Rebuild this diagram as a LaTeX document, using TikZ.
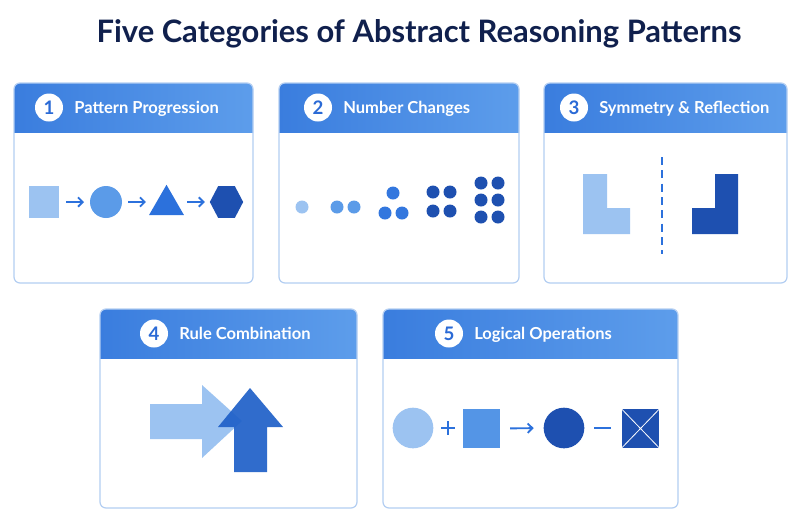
\documentclass[tikz,border=0pt]{standalone}
\usepackage{fontspec}
\setmainfont{Lato}
\usetikzlibrary{arrows.meta,shapes.geometric}
\definecolor{hdA}{HTML}{3A7DDE}
\definecolor{hdB}{HTML}{5D9DEB}
\definecolor{bord}{HTML}{B3CEF2}
\definecolor{ttl}{HTML}{10204D}
\definecolor{cA}{HTML}{9CC3F1}
\definecolor{cB}{HTML}{5B9BE8}
\definecolor{cC}{HTML}{2C71DC}
\definecolor{cD}{HTML}{1E50B0}
\definecolor{cE}{HTML}{1F60C8}
\definecolor{numc}{HTML}{2A6AD6}
\tikzset{
 numcirc/.style={circle, fill=white, minimum size=21pt, inner sep=0pt, text=numc, font=\bfseries\fontsize{14}{14}\selectfont},
 hdtext/.style={anchor=base west, text=white, font=\bfseries\fontsize{12.4}{13}\selectfont, inner sep=0pt},
 arr/.style={-{Straight Barb[length=3.5pt,width=7pt]}, line width=1.4pt, draw=cC},
 shp/.style={inner sep=0pt, outer sep=0pt},
 oper/.style={line width=1.7pt, draw=cC},
}
\newcommand\mypanel[8]{%
 \fill[white, rounded corners=4.5pt] (#1,#3) rectangle (#2,#5);
 \begin{scope}
 \clip[rounded corners=4.5pt] (#1,#3) rectangle (#2,#5);
 \shade[left color=hdA, right color=hdB] (#1,#3) rectangle (#2,#4);
 \end{scope}
 \draw[bord, line width=0.9pt, rounded corners=4.5pt] (#1,#3) rectangle (#2,#5);
 \node[numcirc] (num#7) at (#6,{(#3+#4)/2}) {#7};
 \node[hdtext] (head#7) at ({#6+25},{(#3+#4)/2+6}) {#8};
}
\begin{document}
\begin{tikzpicture}[x=0.75pt,y=-0.75pt]
\fill[white] (0,0) rectangle (800,526);
\useasboundingbox (0,0) rectangle (800,526);
\node[font=\bfseries\fontsize{23.2}{26}\selectfont, text=ttl] (title) at (419,34) {Five Categories of Abstract Reasoning Patterns};

\mypanel{14}{253}{83}{132}{283}{49}{1}{Pattern Progression}
\mypanel{279}{519}{83}{132}{283}{318}{2}{Number Changes}
\mypanel{544}{787}{83}{132}{283}{574}{3}{Symmetry \& Reflection}
\mypanel{100}{357}{309}{358}{508}{154}{4}{Rule Combination}
\mypanel{383}{678}{309}{358}{508}{449}{5}{Logical Operations}

% panel 1
\node[shp, fill=cA, minimum width=22.5pt, minimum height=24pt] (sq1) at (44,202) {};
\node[shp, circle, fill=cB, minimum size=24pt] (ci1) at (106,202) {};
\node[shp, regular polygon, regular polygon sides=3, fill=cC, minimum size=30.3pt] (tr1) at (166.5,205) {};
\node[shp, regular polygon, regular polygon sides=6, fill=cD, minimum size=25pt, yscale=1.1] (hx1) at (226.5,202) {};
\draw[arr] ([xshift=5.25pt]sq1.east) -- ([xshift=-4.5pt]ci1.west);
\draw[arr] ([xshift=4.5pt]ci1.east) -- ([xshift=-15.4pt,yshift=2.25pt]tr1.center);
\draw[arr] ([xshift=15.4pt,yshift=2.25pt]tr1.center) -- ([xshift=-3.75pt]hx1.west);

% panel 2
\fill[cA] (302,207) circle (6.5);
\fill[cB] (337,207) circle (6.5) (354,207) circle (6.5);
\fill[cC!85!cB] (393,193) circle (6.5) (385,213) circle (6.5) (402,213) circle (6.5);
\foreach \x in {433,450} \foreach \y in {192,211} \fill[cD] (\x,\y) circle (6.5);
\foreach \x in {481,498} \foreach \y in {183,200,217} \fill[cD] (\x,\y) circle (6.5);

% panel 3
\fill[cA] (583,174) -- (607,174) -- (607,208) -- (630,208) -- (630,234) -- (583,234) -- cycle;
\draw[cC, line width=1.5pt, dash pattern=on 6pt off 4pt] (662,157) -- (662,254);
\fill[cD] (738,174) -- (715,174) -- (715,208) -- (692,208) -- (692,234) -- (738,234) -- cycle;

% panel 4
\fill[cA] (150,404) -- (202,404) -- (202,385) -- (242,421) -- (202,458) -- (202,439) -- (150,439) -- cycle;
\fill[cE, fill opacity=0.92] (234,472) -- (234,427) -- (218,427) -- (250,388) -- (283,427) -- (267,427) -- (267,472) -- cycle;

% panel 5
\node[shp, circle, fill=cA, minimum size=30.5pt] (ci5) at (413,428) {};
\draw[oper] (441,428) -- (455,428) (448,421) -- (448,435);
\node[shp, fill=cB!85!cC, minimum width=28pt, minimum height=29pt] (sq5) at (481.5,428.5) {};
\node[shp, circle, fill=cD, minimum size=30.5pt] (dc5) at (564,428) {};
\draw[arr, shorten <=7.5pt, shorten >=7.5pt] (sq5.east) -- (dc5.west);
\draw[oper] (594,428) -- (611,428);
\node[shp, fill=cD, minimum width=28pt, minimum height=29pt] (xs5) at (640.5,428.5) {};
\draw[white, line width=0.6pt] (xs5.north west) -- (xs5.south east) (xs5.north east) -- (xs5.south west);
\end{tikzpicture}
\end{document}
